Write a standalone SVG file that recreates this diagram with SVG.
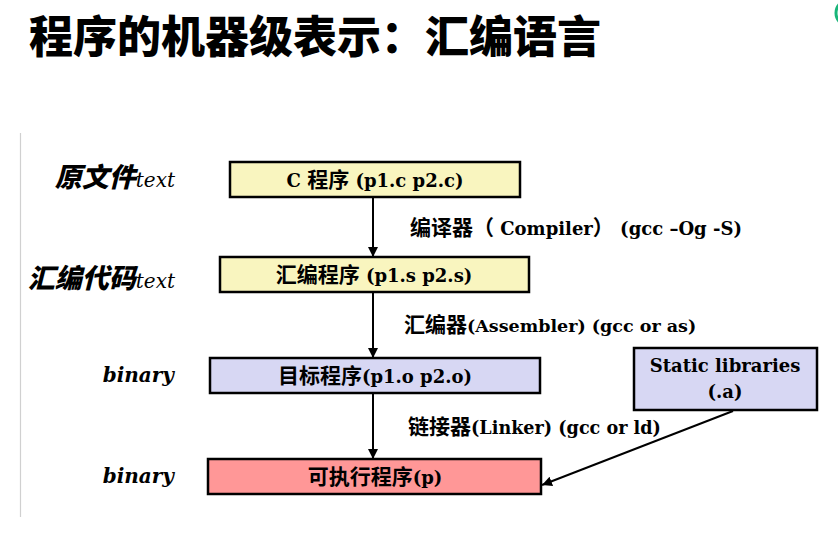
<svg xmlns="http://www.w3.org/2000/svg" width="838" height="542" viewBox="0 0 838 542">
  <style>
    .title { font-family: "Noto Sans CJK SC", "Noto Sans", sans-serif; font-weight: 900; font-size: 44px; fill: #000; }
    .box { stroke: #000; stroke-width: 2.5; }
    .yellow { fill: #f9f5bf; }
    .lav { fill: #d7d7f3; }
    .red { fill: #ff9797; }
    .edge { stroke: #000; stroke-width: 2; fill: none; marker-end: url(#arrow); }
    .lat { font-family: "DejaVu Serif", "Liberation Serif", "Noto Sans CJK SC", serif; }
    .cjk { font-family: "Noto Sans CJK SC", sans-serif; }
  </style>
  <defs>
    <marker id="arrow" viewBox="0 0 10 10" refX="10" refY="5" markerWidth="5" markerHeight="5" orient="auto" markerUnits="strokeWidth">
      <path d="M0,0 L10,5 L0,10 z" fill="#000"/>
    </marker>
  </defs>

  <rect width="838" height="542" fill="#fff"/>

  <!-- page frame decorations -->
  <line x1="20.5" y1="133" x2="20.5" y2="517" stroke="#d0d0d0" stroke-width="1.2"/>
  <circle cx="849" cy="13" r="13" fill="none" stroke="#19b67a" stroke-width="3"/>

  <text class="title" x="29" y="53">程序的机器级表示：汇编语言</text>

  <!-- side labels: oblique CJK heavy + serif italic -->
  <g class="lat" font-style="italic" fill="#000">
    <text x="175" y="187" text-anchor="end"><tspan class="cjk" font-weight="900" font-size="27">原文件</tspan><tspan font-size="20">text</tspan></text>
    <text x="175" y="288" text-anchor="end"><tspan class="cjk" font-weight="900" font-size="27">汇编代码</tspan><tspan font-size="20">text</tspan></text>
    <text x="174" y="382" text-anchor="end" font-weight="bold" font-size="20">binary</text>
    <text x="174" y="483" text-anchor="end" font-weight="bold" font-size="20">binary</text>
  </g>

  <!-- connectors -->
  <g id="connectors">
    <line class="edge" x1="373" y1="198" x2="373" y2="257"/>
    <line class="edge" x1="373" y1="293" x2="373" y2="358"/>
    <line class="edge" x1="373" y1="393" x2="373" y2="459"/>
    <line class="edge" x1="733" y1="411" x2="542" y2="485"/>
    <g class="lat" font-weight="bold" font-size="18" fill="#000">
      <text x="410" y="235"><tspan class="cjk" font-size="21">编译器（</tspan> Compiler<tspan class="cjk" font-size="21">）</tspan> (gcc –Og -S)</text>
      <text x="404" y="332"><tspan class="cjk" font-size="21">汇编器</tspan><tspan font-size="17.5">(Assembler) (gcc or as)</tspan></text>
      <text x="408" y="434"><tspan class="cjk" font-size="21">链接器</tspan><tspan font-size="17.6">(Linker) (gcc or ld)</tspan></text>
    </g>
  </g>

  <g class="lat" font-weight="bold" font-size="18" fill="#000">
    <g id="c-source">
      <rect class="box yellow" x="230" y="162" width="290" height="35"/>
      <text x="375" y="187" text-anchor="middle">C <tspan class="cjk" font-size="21">程序</tspan> (p1.c p2.c)</text>
    </g>
    <g id="asm-source">
      <rect class="box yellow" x="220" y="257" width="309" height="35"/>
      <text x="374" y="282" text-anchor="middle"><tspan class="cjk" font-size="21">汇编程序</tspan> (p1.s p2.s)</text>
    </g>
    <g id="object-files">
      <rect class="box lav" x="210" y="358" width="330" height="35"/>
      <text x="375" y="383" text-anchor="middle"><tspan class="cjk" font-size="21">目标程序</tspan>(p1.o p2.o)</text>
    </g>
    <g id="executable">
      <rect class="box red" x="208" y="459" width="333" height="35"/>
      <text x="375" y="484" text-anchor="middle"><tspan class="cjk" font-size="21">可执行程序</tspan>(p)</text>
    </g>
    <g id="static-libs">
      <rect class="box lav" x="634" y="348" width="183" height="62"/>
      <text x="725" y="372" text-anchor="middle">Static libraries</text>
      <text x="725" y="398" text-anchor="middle">(.a)</text>
    </g>
  </g>
</svg>
